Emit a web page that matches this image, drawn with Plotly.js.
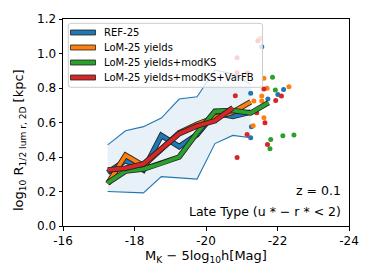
<!DOCTYPE html>
<html><head><meta charset="utf-8">
<script src="https://cdn.plot.ly/plotly-3.0.1.min.js"></script>
<style>html,body{margin:0;padding:0;background:#fff}#chart{width:374px;height:280px}</style>
</head><body><div id="chart"></div>
<script>
// ---- data ----
const magBins = [-17.25,-17.75,-18.25,-18.75,-19.25,-19.75,-20.25,-20.75,-21.25,-21.75];
const refMedian = [0.31,0.38,0.325,0.525,0.46,0.53,0.655,0.635,0.66];
const refUpper  = [0.47,0.552,0.576,0.626,0.736,0.749,0.904,0.883,0.82];
const refLower  = [0.2,0.194,0.192,0.286,0.277,0.272,0.478,0.525,0.512];
const lomYields = [0.245,0.41,0.35,0.445,0.54,0.59,0.63,0.66,0.72];
const lomModKS  = [0.25,0.318,0.33,0.362,0.40,0.54,0.665,0.67,0.655,0.715];
const lomVarFB  = [0.325,0.335,0.36,0.447,0.535,0.58,0.61,0.685];

const refPtsX = [-21.56,-21.25,-22.17,-22.01,-21.73,-21.27,-21.25];
const refPtsY = [1.039,0.769,0.792,0.762,0.736,0.576,0.511];
const yldPtsX = [-21.51,-21.62,-21.71,-22.32,-21.56,-21.56,-21.34,-21.62,-21.32];
const yldPtsY = [1.088,0.856,0.798,0.807,0.753,0.724,0.724,0.627,0.581];
const ksPtsX  = [-21.86,-21.94,-21.81,-21.79,-22.15,-22.46];
const ksPtsY  = [0.862,0.788,0.502,0.448,0.523,0.527];
const fbPtsX  = [-21.45,-20.87,-20.87,-21.16,-21.62,-20.82,-22.11,-21.95,-21.42,-21.65,-21.15,-21.72,-20.87];
const fbPtsY  = [1.074,0.976,0.889,0.889,0.794,0.755,0.753,0.728,0.657,0.599,0.531,0.473,0.397];

const seriesNames = ['REF-25','LoM-25 yields','LoM-25 yields+modKS','LoM-25 yields+modKS+VarFB'];
const colors = ['#1f77b4','#ff7f0e','#2ca02c','#d62728'];
const xTicks = [-16,-18,-20,-22,-24];
const yTicks = [0,0.2,0.4,0.6,0.8,1.0,1.2];

// ---- traces ----
const traces = [];
const n = refUpper.length;
traces.push({x: magBins.slice(0,n), y: refLower, mode:'lines', line:{color:colors[0], width:1.1}, hoverinfo:'skip'});
traces.push({x: magBins.slice(0,n), y: refUpper, mode:'lines', fill:'tonexty', fillcolor:'rgba(31,119,180,0.1)', line:{color:colors[0], width:1.1}, hoverinfo:'skip'});

const pts = [[refPtsX,refPtsY],[yldPtsX,yldPtsY],[ksPtsX,ksPtsY],[fbPtsX,fbPtsY]];
pts.forEach((p,i)=>traces.push({x:p[0], y:p[1], mode:'markers', marker:{color:colors[i], size:5}, hoverinfo:'skip'}));

const meds = [refMedian, lomYields, lomModKS, lomVarFB];
meds.forEach((m,i)=>{
  const xs = magBins.slice(0, m.length);
  traces.push({x:xs, y:m, mode:'lines', line:{color:'#222', width:5.5}, hoverinfo:'skip'});
  traces.push({x:xs, y:m, mode:'lines', line:{color:colors[i], width:3.8}, hoverinfo:'skip'});
});

// ---- layout helpers (pixel -> paper) ----
const L=63, R=25, T=19, B=54, W=374, H=280;
const pw = W-L-R, ph = H-T-B;
const px = v => (v-L)/pw;
const py = v => (H-B-v)/ph;

const shapes = [];
const annotations = [];
// legend box with rounded corners
(function(){
  const x0=68.3, x1=262.5, y0=23.3, y1=87.3, r=2.5;
  const path = `M${px(x0+r)},${py(y0)} L${px(x1-r)},${py(y0)} Q${px(x1)},${py(y0)} ${px(x1)},${py(y0+r)} L${px(x1)},${py(y1-r)} Q${px(x1)},${py(y1)} ${px(x1-r)},${py(y1)} L${px(x0+r)},${py(y1)} Q${px(x0)},${py(y1)} ${px(x0)},${py(y1-r)} L${px(x0)},${py(y0+r)} Q${px(x0)},${py(y0)} ${px(x0+r)},${py(y0)} Z`;
  shapes.push({type:'path', xref:'paper', yref:'paper', path:path, fillcolor:'rgba(255,255,255,0.8)', line:{color:'#cccccc', width:1}, layer:'above'});
})();
const rowY = [32.5,47.5,62.5,77.5];
seriesNames.forEach((nm,i)=>{
  shapes.push({type:'rect', xref:'paper', yref:'paper', x0:px(70.5), x1:px(95.5), y0:py(rowY[i]-2.5), y1:py(rowY[i]+2.5),
    fillcolor:colors[i], line:{color:'#222', width:0.8}, layer:'above'});
  annotations.push({xref:'paper', yref:'paper', x:px(101.5), y:py(rowY[i]), xanchor:'left', yanchor:'middle', showarrow:false,
    text:nm, font:{family:'DejaVu Sans', size:10, color:'#000'}});
});
annotations.push({xref:'paper', yref:'paper', x:px(342.5), y:py(190), xanchor:'right', yanchor:'middle', showarrow:false,
  text:'z = 0.1', font:{family:'DejaVu Sans', size:12.5, color:'#000'}});
annotations.push({xref:'paper', yref:'paper', x:px(343), y:py(211), xanchor:'right', yanchor:'middle', showarrow:false,
  text:'Late Type (u * − r * < 2)', font:{family:'DejaVu Sans', size:12.5, color:'#000'}});
// y-axis title as rotated annotation
annotations.push({xref:'paper', yref:'paper', x:px(19), y:py(140), xanchor:'center', yanchor:'middle', showarrow:false, textangle:-90,
  text:'log<sub>10</sub> R<sub>1/2 lum r, 2D</sub> [kpc]', font:{family:'DejaVu Sans', size:13, color:'#000'}});

const layout = {
  width:W, height:H, margin:{l:L, r:R, t:T, b:B}, showlegend:false,
  paper_bgcolor:'#fff', plot_bgcolor:'#fff',
  font:{family:'DejaVu Sans', size:12, color:'#000'},
  xaxis:{range:[-16,-24], tickvals:xTicks, ticktext:xTicks.map(String), ticks:'outside', ticklen:3.5, tickcolor:'#000',
    showline:true, mirror:true, linecolor:'#000', linewidth:1, showgrid:false, zeroline:false,
    tickfont:{size:12}, title:{text:'M<sub>K</sub> − 5log<sub>10</sub>h[Mag]', font:{size:13}, standoff:3}},
  yaxis:{range:[0,1.2], tickvals:yTicks, ticktext:yTicks.map(v=>v.toFixed(1)), ticks:'outside', ticklen:3.5, tickcolor:'#000',
    showline:true, mirror:true, linecolor:'#000', linewidth:1, showgrid:false, zeroline:false,
    tickfont:{size:12}},
  shapes:shapes, annotations:annotations
};
Plotly.newPlot('chart', traces, layout, {staticPlot:true, displayModeBar:false});
</script></body></html>
